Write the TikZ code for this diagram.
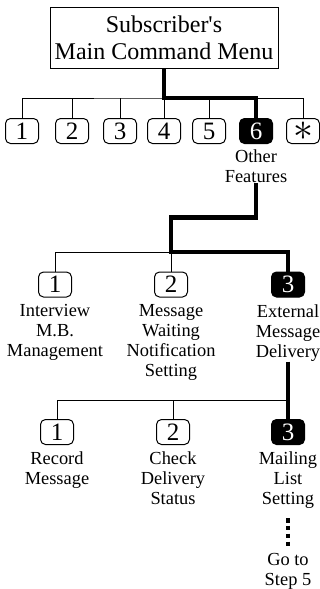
\documentclass[tikz,border=0pt]{standalone}
\usepackage{fontspec}
\setmainfont{Liberation Serif}[Ligatures=TeXOff]
\usetikzlibrary{positioning}

\tikzset{
  key/.style={draw, line width=1pt, rounded corners=5pt, minimum width=33pt, minimum height=25pt, inner sep=0pt, font=\fontsize{25}{25}\selectfont},
  keysel/.style={key, fill=black, text=white},
  caption/.style={align=center, inner sep=0pt, font=\fontsize{18.4}{20}\selectfont},
  selpath/.style={line width=4.5pt},
  buspath/.style={line width=1pt}
}

\begin{document}
\begin{tikzpicture}[x=1pt,y=-1pt]
\useasboundingbox (0,0) rectangle (320,589);
% draw main menu
\node[draw, line width=1pt, minimum width=228pt, minimum height=61pt, align=center, font=\fontsize{24}{27}\selectfont] (menu) at (164,37.5) {Subscriber's\\Main Command Menu};
% draw first row of keys
\node[key] (k1) at (22,131) {1};
\node[key] (k2) at (72,131) {2};
\node[key] (k3) at (120,131) {3};
\node[key] (k4) at (164,131) {4};
\node[key] (k5) at (209,131) {5};
\node[keysel] (k6) at (256,131) {6};
\node[key] (k7) at (303,131) {\scalebox{1.6}{$\ast$}};
\node[caption, below=6pt of k6] (other) {Other\\Features};
\coordinate (bus1) at (164,98);
\draw[buspath] (k1.north) |- (bus1) -| (k7.north);
\draw[buspath] (k2.north) -- (k2.north |- bus1);
\draw[buspath] (k3.north) -- (k3.north |- bus1);
\draw[buspath] (k4.north) -- (k4.north |- bus1);
\draw[buspath] (k5.north) -- (k5.north |- bus1);
\draw[selpath] (menu.south) -- (bus1) -| (k6.north);
% draw second row of keys
\node[key] (m1) at (55,284.5) {1};
\node[key] (m2) at (171,284.5) {2};
\node[keysel] (m3) at (288,284.5) {3};
\node[caption, below=7pt of m1] (interview) {Interview\\M.B.\\Management};
\node[caption, below=7pt of m2] (waiting) {Message\\Waiting\\Notification\\Setting};
\node[caption, below=7pt of m3] (external) {External\\Message\\Delivery};
\coordinate (bus2) at (171,252);
\draw[buspath] (m1.north) |- (bus2) -- (m2.north);
\draw[selpath] (other.south) -- ++(0,34) -| (bus2) -| (m3.north);
% draw third row of keys
\node[key] (s1) at (57,432) {1};
\node[key] (s2) at (173,432) {2};
\node[keysel] (s3) at (288,432) {3};
\node[caption, below=7pt of s1] (record) {Record\\Message};
\node[caption, below=7pt of s2] (status) {Check\\Delivery\\Status};
\node[caption, below=7pt of s3] (mailing) {Mailing\\List\\Setting};
\coordinate (bus3) at (288,400);
\draw[buspath] (s1.north) |- (bus3);
\draw[buspath] (s2.north) -- (s2.north |- bus3);
\draw[selpath] (external.south) -- (s3.north);
% draw continuation
\node[caption] (goto) at (288,571) {Go to\\Step 5};
\draw[selpath, dash pattern=on 4.5pt off 3.3pt, shorten <=9pt, shorten >=5pt] (mailing.south) -- (goto.north);
\end{tikzpicture}
\end{document}
